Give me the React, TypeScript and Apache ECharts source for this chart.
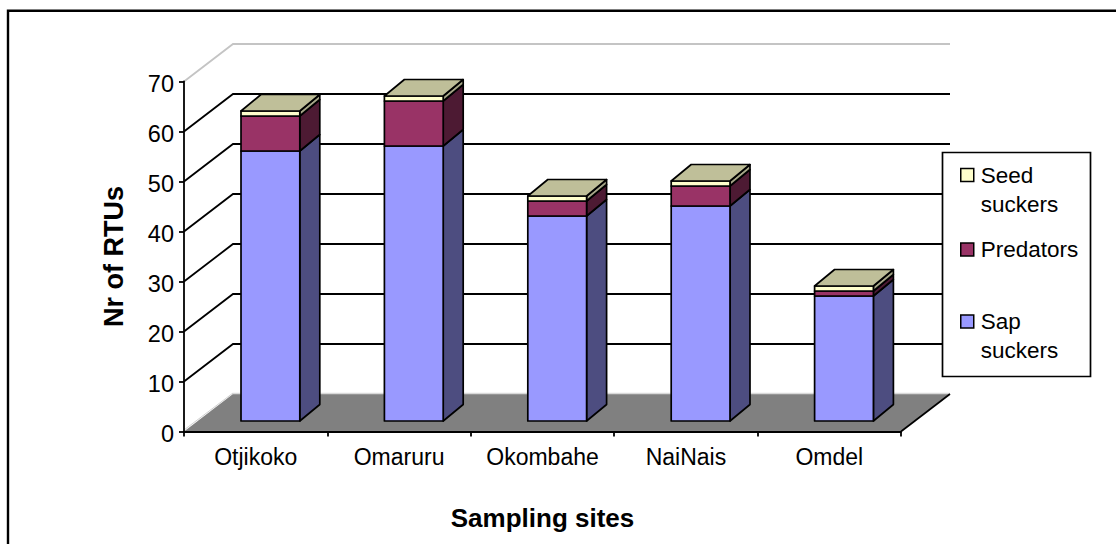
import React, { useEffect, useRef } from "react";
import * as echarts from "echarts";

const categories = ["Otjikoko", "Omaruru", "Okombahe", "NaiNais", "Omdel"];
const sapSuckers = [54, 55, 41, 43, 25];
const predators = [7, 9, 3, 4, 1];
const seedSuckers = [1, 1, 1, 1, 1];
const yTicks = [0, 10, 20, 30, 40, 50, 60, 70];

const FONT = "'Liberation Sans', Arial, sans-serif";
const WALL_DX = 49;
const WALL_DY = 37.5;
const BAR_DX = 20;
const BAR_DY = 16.5;
const BAR_SHIFT_X = 14.7;
const BAR_SHIFT_Y = 10.5;
const BAR_RATIO = 0.41;
const EDGE = { stroke: "#000", lineWidth: 1.7, lineJoin: "round" };

function cumulative(parts: number[], base: number[]) {
  return parts.map((v, i) => [i, base[i], base[i] + v]);
}
const sapData = cumulative(sapSuckers, [0, 0, 0, 0, 0]);
const predatorData = cumulative(predators, sapSuckers);
const seedData = cumulative(seedSuckers, sapSuckers.map((v, i) => v + predators[i]));

function poly(points: number[][], fill: string) {
  return { type: "polygon", shape: { points }, style: { fill, ...EDGE } };
}

function barRenderer(front: string, side: string, top?: string) {
  return (_: any, api: any) => {
    const i = api.value(0);
    const w = api.size([1, 0])[0] * BAR_RATIO;
    const low = api.coord([i, api.value(1)]);
    const high = api.coord([i, api.value(2)]);
    const x0 = low[0] + BAR_SHIFT_X - w / 2;
    const x1 = x0 + w;
    const yb = low[1] - BAR_SHIFT_Y;
    const yt = high[1] - BAR_SHIFT_Y;
    const children: any[] = [
      poly([[x1, yb], [x1 + BAR_DX, yb - BAR_DY], [x1 + BAR_DX, yt - BAR_DY], [x1, yt]], side),
      poly([[x0, yb], [x1, yb], [x1, yt], [x0, yt]], front),
    ];
    if (top) {
      children.push(poly([[x0, yt], [x1, yt], [x1 + BAR_DX, yt - BAR_DY], [x0 + BAR_DX, yt - BAR_DY]], top));
    }
    return { type: "group", children };
  };
}

function wallRenderer(params: any, api: any) {
  const box = params.coordSys;
  const v = api.value(1);
  const y = api.coord([0, v])[1];
  const x0 = box.x;
  const x1 = box.x + box.width;
  const by = y - WALL_DY;
  if (v === 0) {
    return {
      type: "group",
      children: [
        {
          type: "polygon",
          shape: { points: [[x0, y], [x0 + WALL_DX, by], [x1 + WALL_DX, by], [x1, y]] },
          style: { fill: "#808080" },
        },
        { type: "line", shape: { x1: x0 + WALL_DX, y1: by - 0.5, x2: x1 + WALL_DX, y2: by - 0.5 }, style: { stroke: "#d9d9d9", lineWidth: 1.5 } },
        { type: "line", shape: { x1: x0, y1: y - 1.5, x2: x0 + WALL_DX, y2: by - 1 }, style: { stroke: "#d0d0d0", lineWidth: 1 } },
        { type: "line", shape: { x1: x1, y1: y, x2: x1 + WALL_DX, y2: by }, style: { stroke: "#000", lineWidth: 1.7 } },
      ],
    };
  }
  const stroke = v === yTicks[yTicks.length - 1] ? "#c4c4c4" : "#000";
  return {
    type: "polyline",
    shape: { points: [[x0, y], [x0 + WALL_DX, by], [x1 + WALL_DX, by]] },
    style: { stroke, lineWidth: 1.8, fill: "none" },
  };
}

const labelStyle = { color: "#000", fontFamily: FONT, fontSize: 22.5 };
const axisLine = { show: true, onZero: false, lineStyle: { color: "#000", width: 1.8 } };
const axisTick = { show: true, length: 5, lineStyle: { color: "#000", width: 1.8 } };

function legendFor(name: string, label: string, color: string, top: number) {
  return {
    show: true,
    orient: "vertical",
    left: 960,
    top,
    padding: 0,
    z: 6,
    selectedMode: false,
    itemWidth: 13,
    itemHeight: 13,
    formatter: () => label,
    data: [{ name, icon: "rect", itemStyle: { color, borderColor: "#000", borderWidth: 1.5 } }],
    textStyle: { ...labelStyle, lineHeight: 29, padding: [0, 0, 0, 2] },
  };
}

export default function App() {
  const ref = useRef<HTMLDivElement>(null);
  useEffect(() => {
    const chart = echarts.init(ref.current!, undefined, { renderer: "svg" });
    chart.setOption({
      animation: false,
      backgroundColor: "#fff",
      grid: { left: 184, top: 81.5, width: 717, height: 350, containLabel: false },
      xAxis: {
        type: "category",
        data: categories,
        z: 5,
        axisLine,
        axisTick: { ...axisTick, alignWithLabel: false },
        axisLabel: { ...labelStyle, fontSize: 23, margin: 14, interval: 0 },
        splitLine: { show: false },
        name: "Sampling sites",
        nameLocation: "middle",
        nameGap: 73,
        nameTextStyle: { color: "#000", fontFamily: FONT, fontSize: 26, fontWeight: "bold" },
      },
      yAxis: {
        type: "value",
        min: 0,
        max: 70,
        interval: 10,
        z: 5,
        axisLine,
        axisTick,
        axisLabel: {
          ...labelStyle,
          margin: 10,
          formatter: "{v|{value}}",
          rich: { v: { color: "#000", fontFamily: FONT, fontSize: 23.5, padding: [4, 0, 0, 0] } },
        },
        splitLine: { show: false },
        name: "Nr of RTUs",
        nameLocation: "middle",
        nameGap: 57,
        nameTextStyle: { color: "#000", fontFamily: FONT, fontSize: 27, fontWeight: "bold" },
      },
      legend: [
        legendFor("Seed suckers", "\nSeed\nsuckers", "#FFFFCC", 131.5),
        legendFor("Predators", "Predators", "#993366", 235),
        legendFor("Sap suckers", "\nSap\nsuckers", "#9999FF", 278),
      ],
      graphic: [
        {
          type: "polyline",
          z: 7,
          shape: { points: [[8, 544], [8, 10.8], [1116, 10.8]] },
          style: { stroke: "#000", lineWidth: 2.4, fill: "none" },
        },
        {
          type: "rect",
          z: 4,
          shape: { x: 942.5, y: 152.5, width: 148, height: 224 },
          style: { fill: "#fff", stroke: "#000", lineWidth: 1.7 },
        },
      ],
      series: [
        {
          type: "custom",
          name: "walls",
          z: 1,
          clip: false,
          silent: true,
          data: yTicks.map((v) => [0, v]),
          encode: { x: 0, y: 1 },
          renderItem: wallRenderer,
        },
        {
          type: "custom",
          name: "Sap suckers",
          z: 2,
          clip: false,
          itemStyle: { color: "#9999FF" },
          data: sapData,
          encode: { x: 0, y: [1, 2] },
          renderItem: barRenderer("#9999FF", "#4D4D80"),
        },
        {
          type: "custom",
          name: "Predators",
          z: 2,
          clip: false,
          itemStyle: { color: "#993366" },
          data: predatorData,
          encode: { x: 0, y: [1, 2] },
          renderItem: barRenderer("#993366", "#4D1A33"),
        },
        {
          type: "custom",
          name: "Seed suckers",
          z: 2,
          clip: false,
          itemStyle: { color: "#FFFFCC" },
          data: seedData,
          encode: { x: 0, y: [1, 2] },
          renderItem: barRenderer("#FFFFCC", "#A6A688", "#BFBF99"),
        },
      ],
    });
    return () => chart.dispose();
  }, []);
  return <div ref={ref} style={{ position: "fixed", left: 0, top: 0, width: 1116, height: 544 }} />;
}
